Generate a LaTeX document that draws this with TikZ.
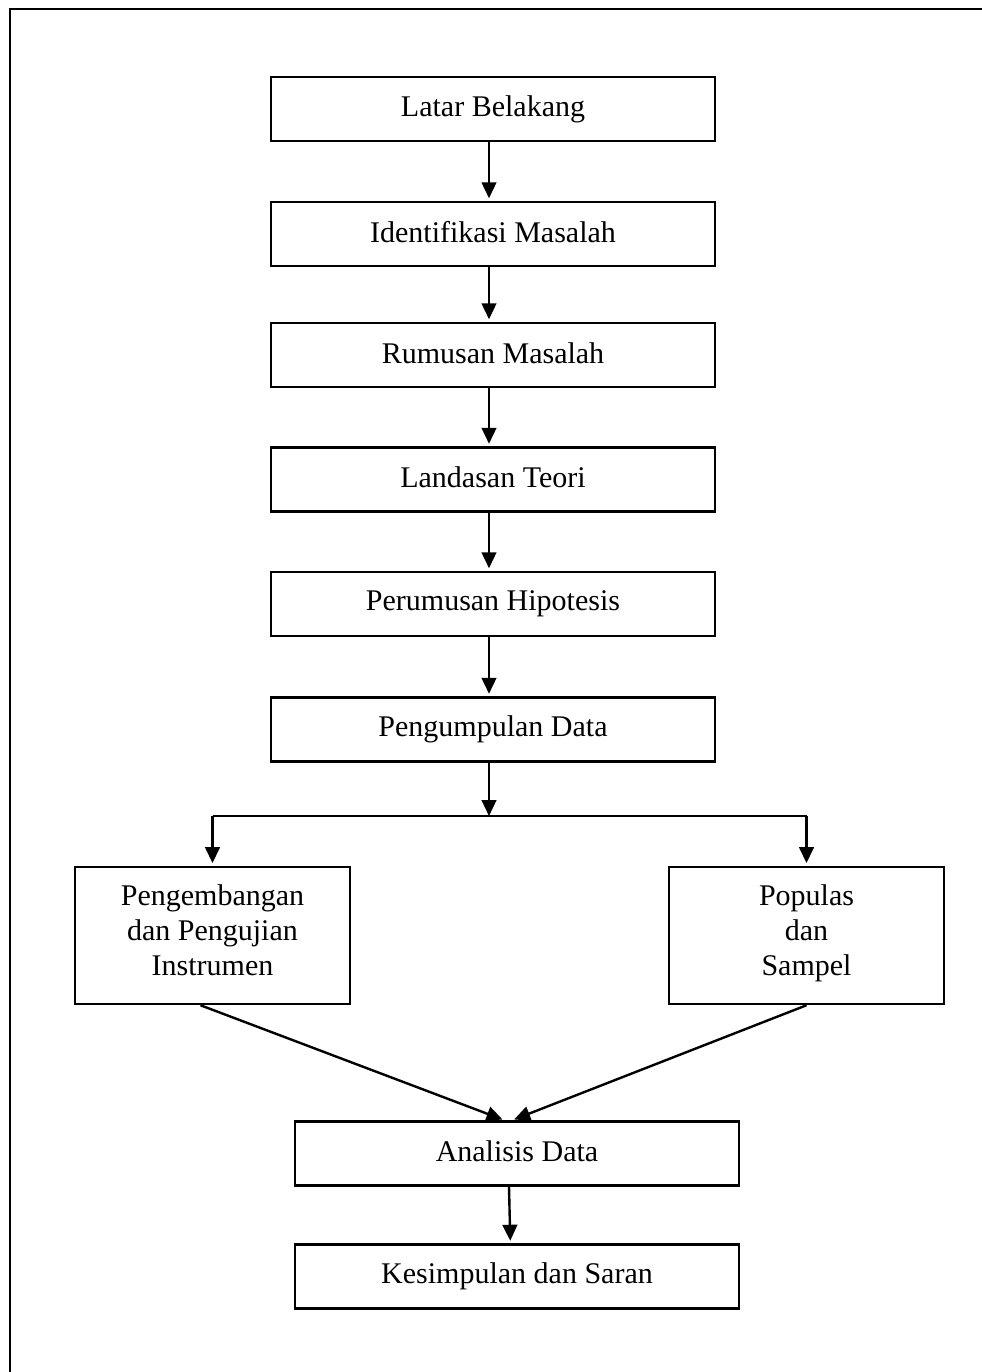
\documentclass[tikz,border=0pt]{standalone}
\usepackage{fontspec}
\setmainfont{Liberation Serif}
\usetikzlibrary{arrows.meta,calc}
\begin{document}
\begin{tikzpicture}[x=0.75pt,y=-0.75pt,
  box/.style={draw,line width=1.6pt,rectangle,inner sep=0pt,
    font=\fontsize{22.5}{26.25}\selectfont,align=center},
  wide/.style={box,minimum width=333pt,minimum height=48pt},
  tall/.style={box,minimum width=206pt,minimum height=103pt},
  arr/.style={line width=1.8pt,-{Triangle[length=12pt,width=11pt]},shorten >=2pt},
  ln/.style={line width=1.8pt}]
\path[use as bounding box] (0,0) rectangle (982,1372);
\begin{scope}
\clip (0,0) rectangle (982,1372);
\draw[line width=1.8pt] (10,9) rectangle (1010,1400);
\end{scope}
\node[wide] (b1) at (493,109) {\raisebox{3pt}{Latar Belakang}};
\node[wide] (b2) at (493,234) {\raisebox{3pt}{Identifikasi Masalah}};
\node[wide] (b3) at (493,355) {\raisebox{3pt}{Rumusan Masalah}};
\node[wide] (b4) at (493,479.5) {\raisebox{3pt}{Landasan Teori}};
\node[wide] (b5) at (493,604) {\raisebox{3pt}{Perumusan Hipotesis}};
\node[wide] (b6) at (493,729.5) {\raisebox{3pt}{Pengumpulan Data}};
\node[tall] (l) at (212.5,935.5) {Pengembangan\\dan Pengujian\\Instrumen\\[-26pt]\strut};
\node[tall] (r) at (806.5,935.5) {Populas\\dan\\Sampel\\[-26pt]\strut};
\node[wide] (an) at (517,1153.5) {\raisebox{3pt}{Analisis Data}};
\node[wide] (ks) at (517,1276.5) {\raisebox{3pt}{Kesimpulan dan Saran}};
\coordinate (split) at (489,816);
\draw[arr] ([xshift=-3pt]b1.south) -- ([xshift=-3pt]b2.north);
\draw[arr] ([xshift=-3pt]b2.south) -- ([xshift=-3pt]b3.north);
\draw[arr] ([xshift=-3pt]b3.south) -- ([xshift=-3pt]b4.north);
\draw[arr] ([xshift=-3pt]b4.south) -- ([xshift=-3pt]b5.north);
\draw[arr] ([xshift=-3pt]b5.south) -- ([xshift=-3pt]b6.north);
\draw[arr,shorten >=0pt] ([xshift=-3pt]b6.south) -- (split);
\draw[ln] (l.north |- split) -- (r.north |- split);
\draw[arr] (l.north |- split) -- (l.north);
\draw[arr] (r.north |- split) -- (r.north);
\draw[arr] ([xshift=-9pt]l.south) -- ([xshift=-9pt]an.north);
\draw[arr] (r.south) -- ([xshift=-4pt]an.north);
\draw[arr] ([xshift=-6pt]an.south) -- ([xshift=-5pt]ks.north);
\end{tikzpicture}
\end{document}
